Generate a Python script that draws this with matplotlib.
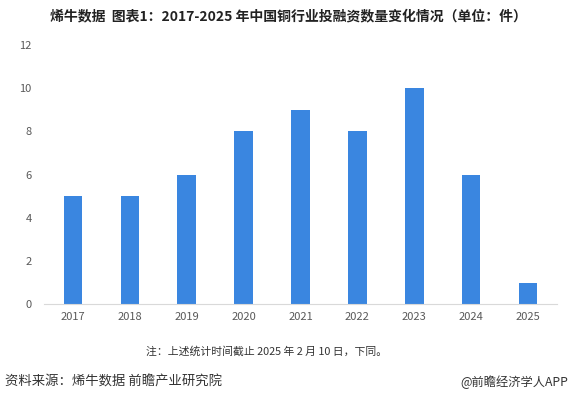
import matplotlib; matplotlib.use("Agg")
import matplotlib.pyplot as plt

plt.rcParams['font.family'] = ['Noto Sans CJK SC', 'DejaVu Sans']

years = ["2017", "2018", "2019", "2020", "2021", "2022", "2023", "2024", "2025"]
counts = [5, 5, 6, 8, 9, 8, 10, 6, 1]
yticks = [0, 2, 4, 6, 8, 10, 12]

BAR = "#3A86E0"; TICK = "#595959"

fig = plt.figure(figsize=(5.74, 3.95), dpi=100)
ax = fig.add_axes([0.077, 0.230, 0.893, 0.656])
ax.bar(range(len(years)), counts, width=0.32, color=BAR)
ax.set_xlim(-0.5, len(years) - 0.5)
ax.set_ylim(0, 12)
ax.set_yticks(yticks)
ax.set_xticks(range(len(years)))
ax.set_xticklabels(years)
ax.tick_params(axis="both", length=0, labelsize=8, colors=TICK)
ax.tick_params(axis="x", pad=6)
ax.tick_params(axis="y", pad=9)
for s in ("top", "right", "left"):
    ax.spines[s].set_visible(False)
ax.spines["bottom"].set_color("#d9d9d9")

fig.text(0.502, 0.958, "烯牛数据  图表1：2017-2025 年中国铜行业投融资数量变化情况（单位：件）",
         ha="center", va="center", fontsize=10, fontweight="bold", color="#222222")
fig.text(0.465, 0.111, "注：上述统计时间截止 2025 年 2 月 10 日，下同。",
         ha="center", va="center", fontsize=7.8, color="#333333")
fig.text(0.008, 0.033, "资料来源：烯牛数据 前瞻产业研究院",
         ha="left", va="center", fontsize=9.6, color="#333333")
fig.text(0.990, 0.033, "@前瞻经济学人APP",
         ha="right", va="center", fontsize=8.8, color="#333333")

fig.savefig("out.png", dpi=100, facecolor="white")
